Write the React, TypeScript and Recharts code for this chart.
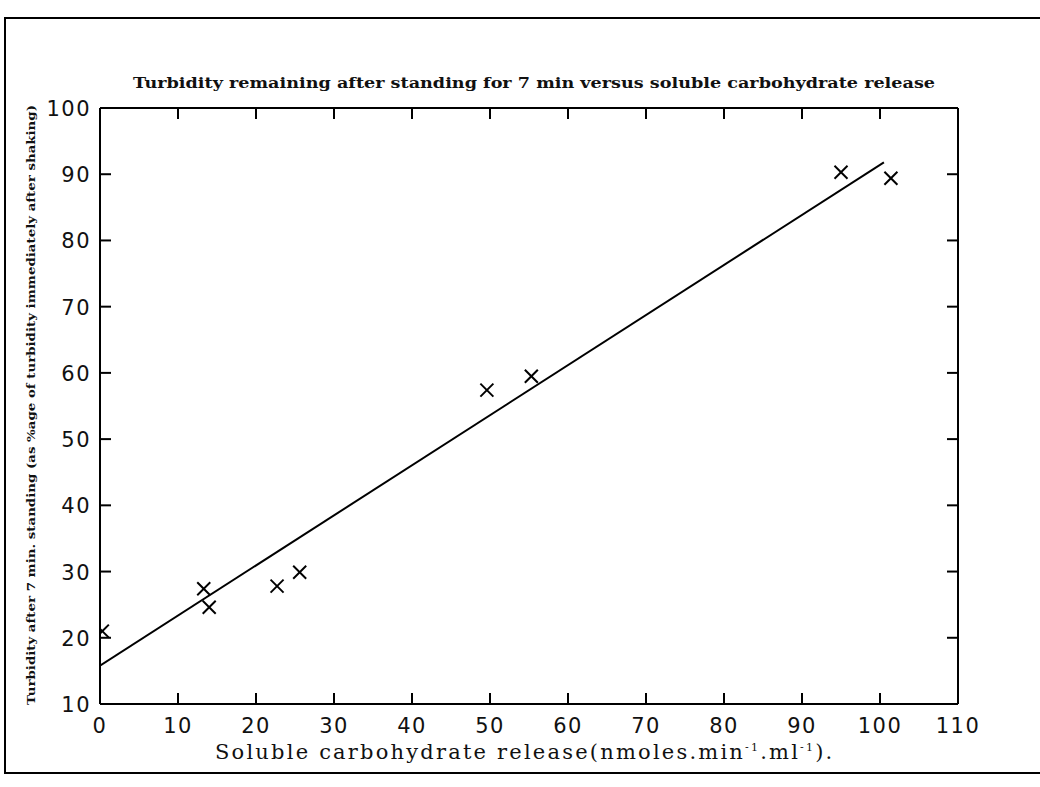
import React from 'react';
import { ComposedChart, XAxis, YAxis, Scatter } from 'recharts';

const xTicks = [0, 10, 20, 30, 40, 50, 60, 70, 80, 90, 100, 110];
const yTicks = [10, 20, 30, 40, 50, 60, 70, 80, 90, 100];
const sampleX = [0.3, 13.3, 14.0, 22.7, 25.6, 49.6, 55.3, 95.0, 101.4];
const sampleY = [21.0, 27.4, 24.6, 27.8, 29.9, 57.4, 59.5, 90.3, 89.4];
const fitX = [0, 100.5];
const fitY = [15.8, 91.8];

const points = sampleX.map((x, i) => ({ x, y: sampleY[i] }));
const fitPoints = fitX.map((x, i) => ({ x, y: fitY[i] }));

const W = 1040;
const H = 787;
const PL = 100, PR = 958, PT = 108, PB = 704;
const AX = 30;
const TICK = 11;
const tickFont = { fontFamily: 'DejaVu Sans', fontSize: 21, fill: '#111', letterSpacing: 1.5 } as const;

const BottomTick = (p: any) => (
  <g>
    <line x1={p.x} x2={p.x} y1={p.y} y2={p.y - TICK} stroke="#000" strokeWidth={2} />
    <text x={p.x} y={p.y + 29} textAnchor="middle" {...tickFont}>{p.payload.value}</text>
  </g>
);
const TopTick = (p: any) => (
  <line x1={p.x} x2={p.x} y1={p.y} y2={p.y + TICK} stroke="#000" strokeWidth={2} />
);
const LeftTick = (p: any) => (
  <g>
    <line x1={p.x} x2={p.x + TICK} y1={p.y} y2={p.y} stroke="#000" strokeWidth={2} />
    <text x={p.x - 9} y={p.y + 8} textAnchor="end" {...tickFont}>{p.payload.value}</text>
  </g>
);
const RightTick = (p: any) => (
  <line x1={p.x} x2={p.x - TICK} y1={p.y} y2={p.y} stroke="#000" strokeWidth={2} />
);

const Cross = (p: any) => {
  const { cx, cy } = p;
  const r = 6.5;
  return (
    <g stroke="#000" strokeWidth={2}>
      <line x1={cx - r} y1={cy - r} x2={cx + r} y2={cy + r} />
      <line x1={cx - r} y1={cy + r} x2={cx + r} y2={cy - r} />
    </g>
  );
};
const NoDot = () => <g />;

export default function App() {
  return (
    <div style={{ position: 'absolute', left: 0, top: 0, width: W, height: H, overflow: 'hidden', background: '#fff' }}>
      <ComposedChart
        width={W}
        height={H}
        margin={{ top: PT - AX, right: W - PR - AX, bottom: H - PB - AX, left: PL - AX }}
      >
        <XAxis xAxisId="b" dataKey="x" type="number" domain={[0, 110]} ticks={xTicks} height={AX}
          tickSize={0} tickMargin={0} tick={<BottomTick />} axisLine={{ stroke: '#000', strokeWidth: 2 }} interval={0} allowDataOverflow />
        <XAxis xAxisId="t" orientation="top" dataKey="x" type="number" domain={[0, 110]} ticks={xTicks} height={AX}
          tickSize={0} tickMargin={0} tick={<TopTick />} axisLine={{ stroke: '#000', strokeWidth: 2 }} interval={0} allowDataOverflow />
        <YAxis yAxisId="l" dataKey="y" type="number" domain={[10, 100]} ticks={yTicks} width={AX}
          tickSize={0} tickMargin={0} tick={<LeftTick />} axisLine={{ stroke: '#000', strokeWidth: 2 }} interval={0} allowDataOverflow />
        <YAxis yAxisId="r" orientation="right" dataKey="y" type="number" domain={[10, 100]} ticks={yTicks} width={AX}
          tickSize={0} tickMargin={0} tick={<RightTick />} axisLine={{ stroke: '#000', strokeWidth: 2 }} interval={0} allowDataOverflow />
        <Scatter xAxisId="b" yAxisId="l" data={fitPoints} shape={<NoDot />}
          line={{ stroke: '#000', strokeWidth: 2 }} isAnimationActive={false} />
        <Scatter xAxisId="b" yAxisId="l" data={points} shape={<Cross />} isAnimationActive={false} />
      </ComposedChart>
      <svg width={W} height={H} style={{ position: 'absolute', left: 0, top: 0, pointerEvents: 'none' }}>
        <rect x={5} y={18} width={1100} height={755} fill="none" stroke="#000" strokeWidth={2} />
        <text x={133} y={88} textLength={802} lengthAdjust="spacingAndGlyphs"
          fontFamily="DejaVu Serif" fontWeight="bold" fontSize={14} fill="#111">
          Turbidity remaining after standing for 7 min versus soluble carbohydrate release
        </text>
        <text x={215} y={759} fontFamily="DejaVu Serif" fontSize={21} letterSpacing={2.2} fill="#111">
          Soluble carbohydrate release(nmoles.min
          <tspan dy={-8} fontSize={11}>-1</tspan>
          <tspan dy={8}>.ml</tspan>
          <tspan dy={-8} fontSize={11}>-1</tspan>
          <tspan dy={8}>).</tspan>
        </text>
        <text transform="translate(35,705) rotate(-90)" x={0} y={0} textLength={600} lengthAdjust="spacingAndGlyphs"
          fontFamily="DejaVu Serif" fontWeight="bold" fontSize={11} fill="#111">
          Turbidity after 7 min. standing (as %age of turbidity immediately after shaking)
        </text>
      </svg>
    </div>
  );
}
